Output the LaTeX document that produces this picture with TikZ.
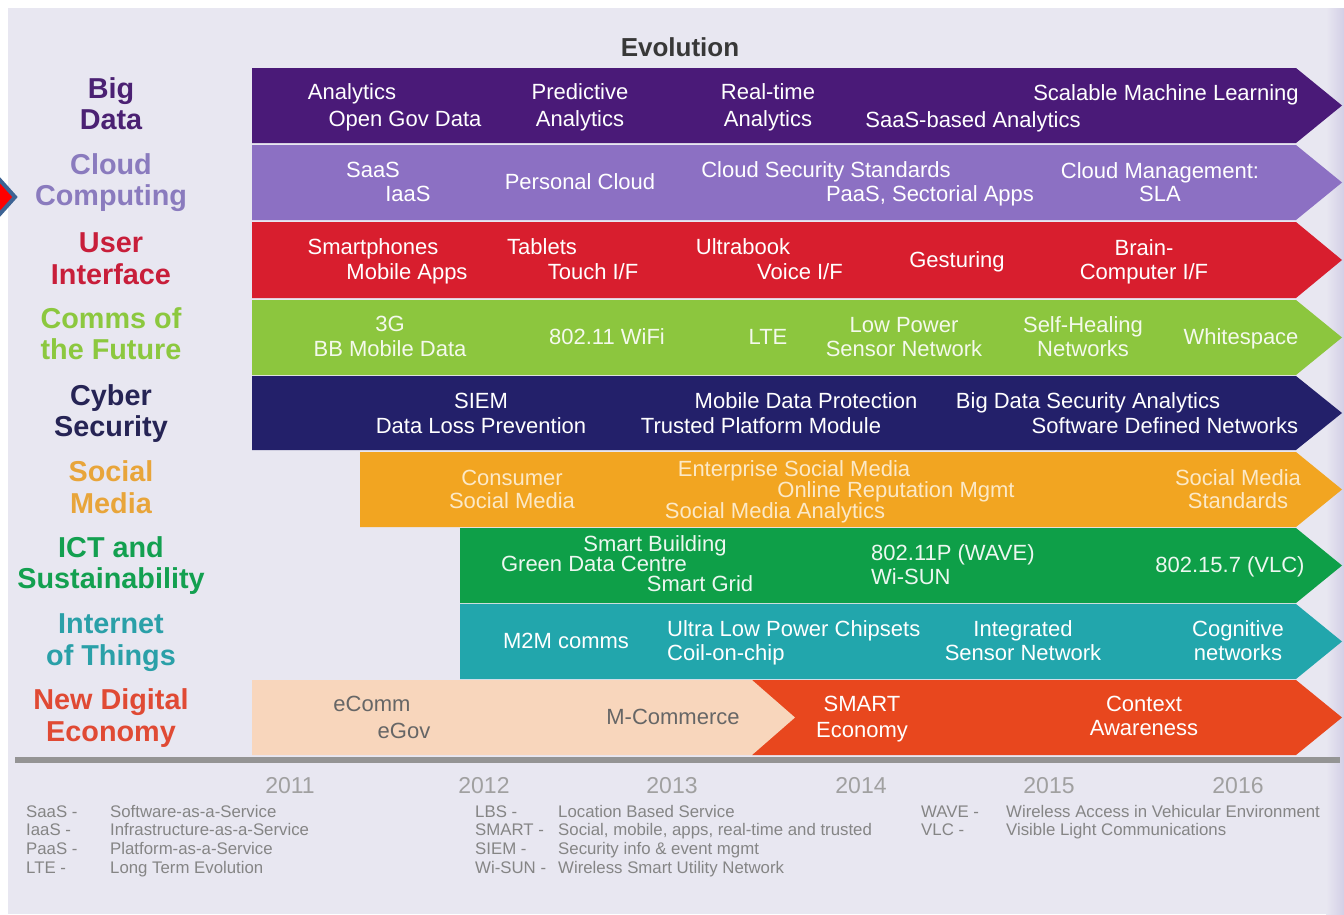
\documentclass[tikz,border=0pt]{standalone}
\usepackage{fontspec}
\setmainfont{Liberation Sans}
\definecolor{bgc}{HTML}{E8E7F1}
\definecolor{stripc}{HTML}{D3CFE6}
\definecolor{cBig}{HTML}{4A1A78}
\definecolor{cCloud}{HTML}{8C70C3}
\definecolor{cUI}{HTML}{D81E2E}
\definecolor{cComm}{HTML}{8CC63E}
\definecolor{cCyber}{HTML}{23206A}
\definecolor{cSoc}{HTML}{F2A521}
\definecolor{cICT}{HTML}{0E9F48}
\definecolor{cIoT}{HTML}{22A6AC}
\definecolor{cPeach}{HTML}{F8D6BC}
\definecolor{cNDE}{HTML}{E8471E}
\definecolor{lBig}{HTML}{4B2173}
\definecolor{lCloud}{HTML}{8A7BBE}
\definecolor{lUI}{HTML}{C81E3A}
\definecolor{lComm}{HTML}{8CC83F}
\definecolor{lCyber}{HTML}{262455}
\definecolor{lSoc}{HTML}{E8A53A}
\definecolor{lICT}{HTML}{13A050}
\definecolor{lIoT}{HTML}{2AA0A8}
\definecolor{lNDE}{HTML}{E04A34}
\definecolor{legc}{HTML}{858585}
\definecolor{yearc}{HTML}{A0A0A0}
\newcommand\rowbar[4]{\fill[#4] (#1,#2) -- (1296,#2) -- (1342,{(#2+#3)/2}) -- (1296,#3) -- (#1,#3) -- cycle;}
\begin{document}
\begin{tikzpicture}[x=1pt,y=-1pt,
  bt/.style={inner sep=0pt,text height=15.5pt,text depth=0pt,text=white,font=\fontsize{22}{26}\selectfont},
  lab/.style={inner sep=0pt,text height=20pt,text depth=0pt,font=\fontsize{28.8}{32}\selectfont\bfseries},
  yr/.style={inner sep=0pt,text height=17pt,text depth=0pt,text=yearc,font=\fontsize{23}{26}\selectfont},
  leg/.style={inner sep=0pt,text height=11.5pt,text depth=0pt,anchor=west,text=legc,font=\fontsize{16.8}{19}\selectfont}]
\useasboundingbox (0,0) rectangle (1344,914);
\fill[white] (0,0) rectangle (1344,914);
\fill[bgc] (8,8) rectangle (1344,914);
\shade[left color=bgc,right color=stripc] (1326,8) rectangle (1344,914);
% pointer marker
\fill[red,draw={rgb,255:red,61;green,99;blue,148},line width=4pt] (-20,197) -- (-2,178) -- (15,197) -- (-2,216) -- cycle;
% title
\node[inner sep=0pt,text height=18pt,text depth=0pt,font=\fontsize{26}{30}\selectfont\bfseries,text=black!78] (title) at (680,47) {Evolution};
% bars
\rowbar{252}{68}{143}{cBig}
\rowbar{252}{145}{220}{cCloud}
\rowbar{252}{222}{298}{cUI}
\rowbar{252}{300}{375}{cComm}
\rowbar{252}{376}{450}{cCyber}
\rowbar{360}{452}{527}{cSoc}
\rowbar{460}{528}{603}{cICT}
\rowbar{460}{604}{679}{cIoT}
\rowbar{752}{680}{755}{cNDE}
\fill[cPeach] (252,680) -- (752,680) -- (795,717.5) -- (752,755) -- (252,755) -- cycle;
% baseline
\fill[black!42] (15,757) rectangle (1340,763);
% left labels
\node[lab,text=lBig] (l1a) at (111,88) {Big};
\node[lab,text=lBig] (l1b) at (111,119) {Data};
\node[lab,text=lCloud] (l2a) at (111,164) {Cloud};
\node[lab,text=lCloud] (l2b) at (111,195) {Computing};
\node[lab,text=lUI] (l3a) at (111,242) {User};
\node[lab,text=lUI] (l3b) at (111,274) {Interface};
\node[lab,text=lComm] (l4a) at (111,318) {Comms of};
\node[lab,text=lComm] (l4b) at (111,349) {the Future};
\node[lab,text=lCyber] (l5a) at (111,395) {Cyber};
\node[lab,text=lCyber] (l5b) at (111,426) {Security};
\node[lab,text=lSoc] (l6a) at (111,471) {Social};
\node[lab,text=lSoc] (l6b) at (111,503) {Media};
\node[lab,text=lICT] (l7a) at (111,547) {ICT and};
\node[lab,text=lICT] (l7b) at (111,578) {Sustainability};
\node[lab,text=lIoT] (l8a) at (111,623) {Internet};
\node[lab,text=lIoT] (l8b) at (111,655) {of Things};
\node[lab,text=lNDE] (l9a) at (111,699) {New Digital};
\node[lab,text=lNDE] (l9b) at (111,731) {Economy};
% row 1 Big Data
\node[bt] (b1) at (352,92) {Analytics};
\node[bt] (b2) at (405,119) {Open Gov Data};
\node[bt] (b3) at (580,92) {Predictive};
\node[bt] (b4) at (580,119) {Analytics};
\node[bt] (b5) at (768,92) {Real-time};
\node[bt] (b6) at (768,119) {Analytics};
\node[bt] (b7) at (973,120) {SaaS-based Analytics};
\node[bt] (b8) at (1166,93) {Scalable Machine Learning};
% row 2 Cloud
\node[bt] (c1) at (373,170) {SaaS};
\node[bt] (c2) at (408,194) {IaaS};
\node[bt] (c3) at (580,182) {Personal Cloud};
\node[bt] (c4) at (826,170) {Cloud Security Standards};
\node[bt] (c5) at (930,194) {PaaS, Sectorial Apps};
\node[bt] (c6) at (1160,171) {Cloud Management:};
\node[bt] (c7) at (1160,194) {SLA};
% row 3 UI
\node[bt] (u1) at (373,247) {Smartphones};
\node[bt] (u2) at (407,272) {Mobile Apps};
\node[bt] (u3) at (542,247) {Tablets};
\node[bt] (u4) at (593,272) {Touch I/F};
\node[bt] (u5) at (743,247) {Ultrabook};
\node[bt] (u6) at (800,272) {Voice I/F};
\node[bt] (u7) at (957,260) {Gesturing};
\node[bt] (u8) at (1144,248) {Brain-};
\node[bt] (u9) at (1144,272) {Computer I/F};
% row 4 Comms
\node[bt,text=white!90!cComm] (m1) at (390,324) {3G};
\node[bt,text=white!90!cComm] (m2) at (390,349) {BB Mobile Data};
\node[bt,text=white!90!cComm] (m3) at (607,337) {802.11 WiFi};
\node[bt,text=white!90!cComm] (m4) at (768,337) {LTE};
\node[bt,text=white!90!cComm] (m5) at (904,325) {Low Power};
\node[bt,text=white!90!cComm] (m6) at (904,349) {Sensor Network};
\node[bt,text=white!90!cComm] (m7) at (1083,325) {Self-Healing};
\node[bt,text=white!90!cComm] (m8) at (1083,349) {Networks};
\node[bt,text=white!90!cComm] (m9) at (1241,337) {Whitespace};
% row 5 Cyber
\node[bt] (s1) at (481,401) {SIEM};
\node[bt] (s2) at (481,426) {Data Loss Prevention};
\node[bt] (s3) at (806,401) {Mobile Data Protection};
\node[bt] (s4) at (761,426) {Trusted Platform Module};
\node[bt] (s5) at (1088,401) {Big Data Security Analytics};
\node[bt] (s6) at (1165,426) {Software Defined Networks};
% row 6 Social
\node[bt,text=white!75!cSoc] (o1) at (512,478) {Consumer};
\node[bt,text=white!75!cSoc] (o2) at (512,501) {Social Media};
\node[bt,text=white!75!cSoc] (o3) at (794,469) {Enterprise Social Media};
\node[bt,text=white!75!cSoc] (o4) at (896,490) {Online Reputation Mgmt};
\node[bt,text=white!75!cSoc] (o5) at (775,511) {Social Media Analytics};
\node[bt,text=white!75!cSoc] (o6) at (1238,478) {Social Media};
\node[bt,text=white!75!cSoc] (o7) at (1238,501) {Standards};
% row 7 ICT
\node[bt,text=white!92!cICT] (i1) at (655,544) {Smart Building};
\node[bt,text=white!92!cICT] (i2) at (594,564) {Green Data Centre};
\node[bt,text=white!92!cICT] (i3) at (700,584) {Smart Grid};
\node[bt,text=white!92!cICT,anchor=west] (i4) at (871,553) {802.11P (WAVE)};
\node[bt,text=white!92!cICT,anchor=west] (i5) at (871,577) {Wi-SUN};
\node[bt,text=white!92!cICT] (i6) at (1230,565) {802.15.7 (VLC)};
% row 8 IoT
\node[bt] (t1) at (566,641) {M2M comms};
\node[bt,anchor=west] (t2) at (667,629) {Ultra Low Power Chipsets};
\node[bt,anchor=west] (t3) at (667,653) {Coil-on-chip};
\node[bt] (t4) at (1023,629) {Integrated};
\node[bt] (t5) at (1023,653) {Sensor Network};
\node[bt] (t6) at (1238,629) {Cognitive};
\node[bt] (t7) at (1238,653) {networks};
% row 9 NDE
\node[bt,text=black!60] (e1) at (372,704) {eComm};
\node[bt,text=black!60] (e2) at (404,731) {eGov};
\node[bt,text=black!60] (e3) at (673,717) {M-Commerce};
\node[bt] (e4) at (862,704) {SMART};
\node[bt] (e5) at (862,730) {Economy};
\node[bt] (e6) at (1144,704) {Context};
\node[bt] (e7) at (1144,728) {Awareness};
% years
\node[yr] (y1) at (290,785) {2011};
\node[yr] (y2) at (484,785) {2012};
\node[yr] (y3) at (672,785) {2013};
\node[yr] (y4) at (861,785) {2014};
\node[yr] (y5) at (1049,785) {2015};
\node[yr] (y6) at (1238,785) {2016};
% legend left
\node[leg] (g1a) at (26,812) {SaaS -};
\node[leg] (g1b) at (110,812) {Software-as-a-Service};
\node[leg] (g2a) at (26,830) {IaaS -};
\node[leg] (g2b) at (110,830) {Infrastructure-as-a-Service};
\node[leg] (g3a) at (26,849) {PaaS -};
\node[leg] (g3b) at (110,849) {Platform-as-a-Service};
\node[leg] (g4a) at (26,868) {LTE -};
\node[leg] (g4b) at (110,868) {Long Term Evolution};
% legend middle
\node[leg] (h1a) at (475,812) {LBS -};
\node[leg] (h1b) at (558,812) {Location Based Service};
\node[leg] (h2a) at (475,830) {SMART -};
\node[leg] (h2b) at (558,830) {Social, mobile, apps, real-time and trusted};
\node[leg] (h3a) at (475,849) {SIEM -};
\node[leg] (h3b) at (558,849) {Security info \& event mgmt};
\node[leg] (h4a) at (475,868) {Wi-SUN -};
\node[leg] (h4b) at (558,868) {Wireless Smart Utility Network};
% legend right
\node[leg] (k1a) at (921,812) {WAVE -};
\node[leg] (k1b) at (1006,812) {Wireless Access in Vehicular Environment};
\node[leg] (k2a) at (921,830) {VLC -};
\node[leg] (k2b) at (1006,830) {Visible Light Communications};
\end{tikzpicture}
\end{document}
